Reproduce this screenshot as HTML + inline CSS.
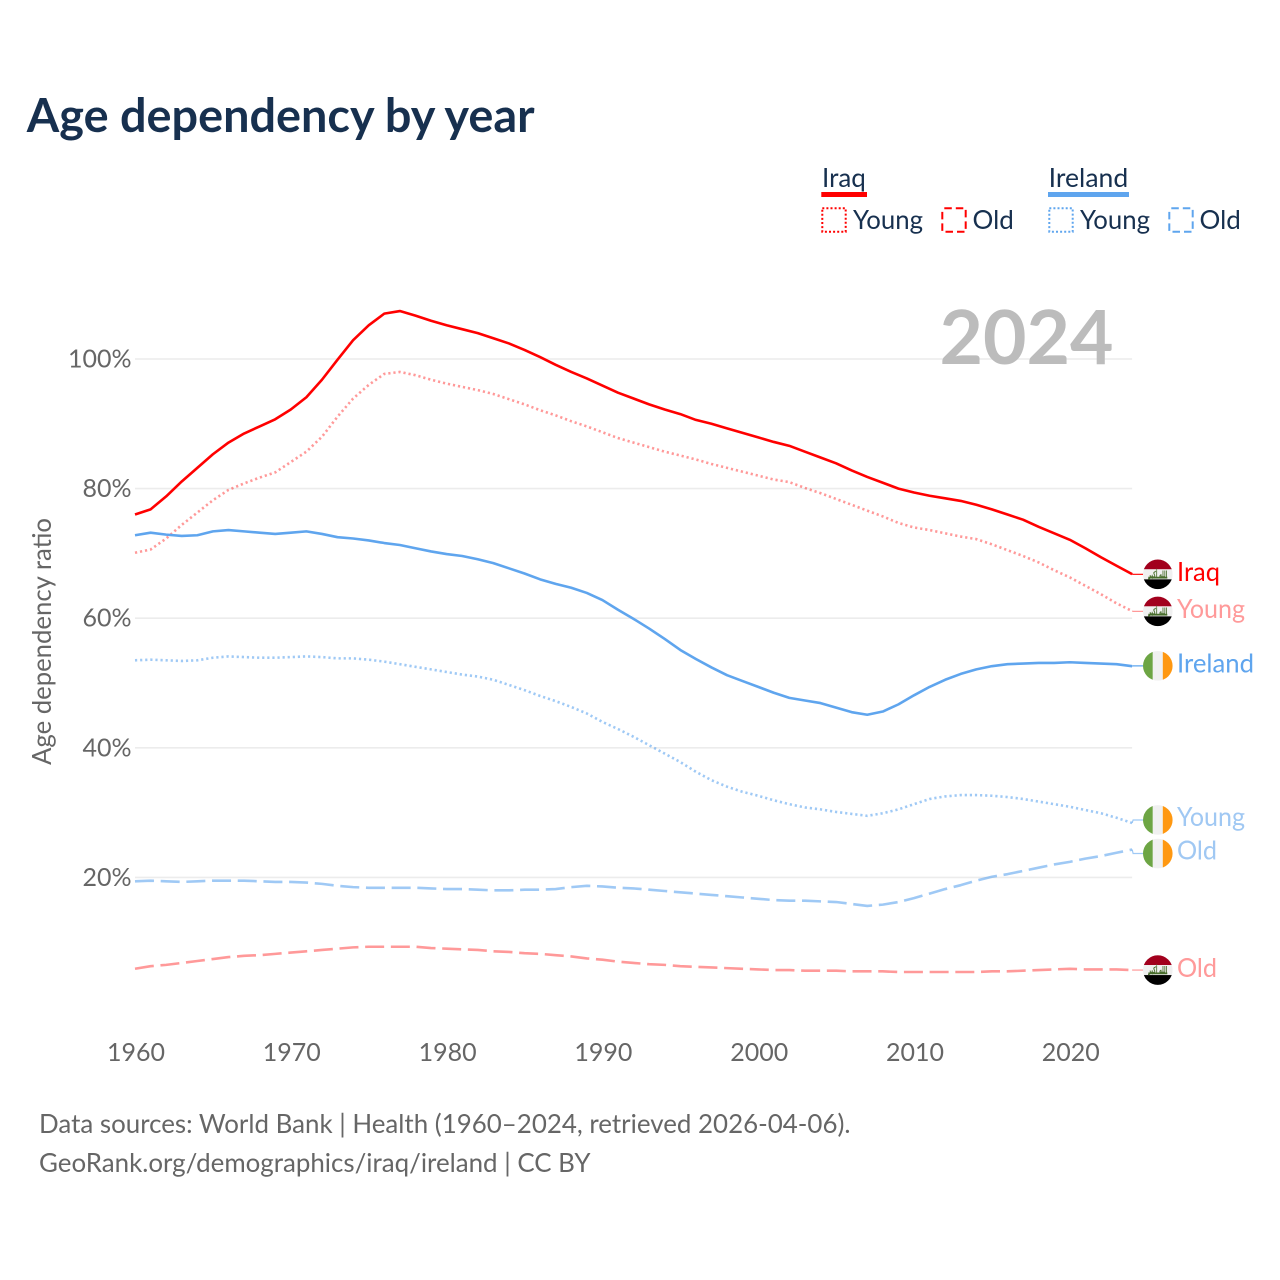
<!DOCTYPE html>
<html lang="en">
<head>
<meta charset="utf-8">
<title>Age dependency by year</title>
<style>
  html, body { margin: 0; padding: 0; background: #fff; }
  svg { display: block; }
  text { font-family: "Lato", "Carlito", "Liberation Sans", sans-serif; }
  .dk { fill: #17304f; font-size: 26px; }
  .gy { fill: #666666; font-size: 26px; }
  .tick { fill: #666666; font-size: 25px; }
</style>
</head>
<body>
<svg id="chart" xmlns="http://www.w3.org/2000/svg" width="1280" height="1280" viewBox="0 0 1280 1280">
  <defs>
    <clipPath id="flag-clip"><circle cx="0" cy="0" r="14.8"></circle></clipPath>
  </defs>

  <text x="26.8" y="132" style="font-size:46.8px;font-weight:700;fill:#17304f">Age dependency by year</text>

  <g>
    <g>
      <text class="dk" x="822" y="187">Iraq</text>
      <rect x="821.3" y="192" width="45.7" height="5" fill="#ff0000"></rect>
      <rect x="822.3" y="208.3" width="23.4" height="23.4" fill="none" stroke="#ff0000" stroke-width="2" stroke-dasharray="2 2.1"></rect>
      <text class="dk" x="853" y="229" textLength="70" lengthAdjust="spacingAndGlyphs">Young</text>
      <rect x="942.3" y="208.3" width="23.4" height="23.4" fill="none" stroke="#ff0000" stroke-width="2" stroke-dasharray="7.5 4" stroke-dashoffset="-2"></rect>
      <text class="dk" x="972.5" y="229">Old</text>
    </g>
    <g>
      <text class="dk" x="1048.7" y="187" textLength="79.5" lengthAdjust="spacingAndGlyphs">Ireland</text>
      <rect x="1048" y="192" width="81" height="5" fill="#5fa5ee"></rect>
      <rect x="1049.3" y="208.3" width="23.4" height="23.4" fill="none" stroke="#5fa5ee" stroke-width="2" stroke-dasharray="2 2.1"></rect>
      <text class="dk" x="1080" y="229" textLength="70" lengthAdjust="spacingAndGlyphs">Young</text>
      <rect x="1169.3" y="208.3" width="23.4" height="23.4" fill="none" stroke="#5fa5ee" stroke-width="2" stroke-dasharray="7.5 4" stroke-dashoffset="-2"></rect>
      <text class="dk" x="1199.5" y="229">Old</text>
    </g>
  </g>

  <g id="grid"></g>
  <g id="y-ticks"></g>
  <g id="x-ticks"></g>

  <text class="gy" x="0" y="0" transform="translate(51 765) rotate(-90)" textLength="247" lengthAdjust="spacingAndGlyphs">Age dependency ratio</text>

  <text x="939.5" y="364" style="font-size:75px;font-weight:700;fill:#bcbcbc">2024</text>

  <g id="series"></g>
  <g id="end-labels"></g>

  <text class="gy" x="39" y="1133" textLength="811.5" lengthAdjust="spacingAndGlyphs">Data sources: World Bank | Health (1960–2024, retrieved 2026-04-06).</text>
  <text class="gy" x="39" y="1172" textLength="551.5" lengthAdjust="spacingAndGlyphs">GeoRank.org/demographics/iraq/ireland | CC BY</text>
</svg>

<script>
const startYear = 1960;
const yTickValues = [100, 80, 60, 40, 20];
const yTickLabels = ["100%", "80%", "60%", "40%", "20%"];
const xTickValues = [1960, 1970, 1980, 1990, 2000, 2010, 2020];
const xTickLabels = ["1960", "1970", "1980", "1990", "2000", "2010", "2020"];

const iraqTotal = [76.0,76.8,78.8,81.1,83.2,85.3,87.1,88.5,89.6,90.7,92.2,94.1,96.8,99.9,102.9,105.2,107.0,107.4,106.7,105.9,105.2,104.6,104.0,103.2,102.4,101.4,100.3,99.1,98.0,97.0,95.9,94.8,93.9,93.0,92.2,91.5,90.6,90.0,89.3,88.6,87.9,87.2,86.6,85.7,84.8,83.9,82.8,81.8,80.9,80.0,79.4,78.9,78.5,78.1,77.5,76.8,76.0,75.2,74.1,73.1,72.1,70.8,69.4,68.1,66.8];
const iraqYoung = [70.1,70.6,72.3,74.4,76.3,78.2,79.8,80.8,81.7,82.5,84.1,85.7,88.0,91.1,93.9,96.0,97.7,98.0,97.5,96.8,96.2,95.7,95.2,94.6,93.8,93.0,92.1,91.3,90.4,89.6,88.7,87.8,87.1,86.4,85.7,85.1,84.5,83.8,83.2,82.6,82.0,81.4,81.0,80.1,79.3,78.4,77.5,76.6,75.7,74.7,74.0,73.6,73.1,72.6,72.2,71.4,70.5,69.6,68.6,67.4,66.3,65.0,63.7,62.3,61.1];
const iraqOld = [5.9,6.3,6.5,6.8,7.1,7.4,7.7,7.9,8.0,8.2,8.4,8.6,8.8,9.0,9.2,9.3,9.3,9.3,9.3,9.1,9.0,8.9,8.8,8.6,8.5,8.3,8.2,8.0,7.8,7.5,7.3,7.0,6.8,6.6,6.5,6.3,6.2,6.1,6.0,5.9,5.8,5.7,5.7,5.6,5.6,5.6,5.5,5.5,5.5,5.4,5.4,5.4,5.4,5.4,5.4,5.5,5.5,5.6,5.7,5.8,5.9,5.8,5.8,5.8,5.7];
const irelandTotal = [72.8,73.2,72.9,72.7,72.8,73.4,73.6,73.4,73.2,73.0,73.2,73.4,73.0,72.5,72.3,72.0,71.6,71.3,70.8,70.3,69.9,69.6,69.1,68.5,67.7,66.9,66.0,65.3,64.7,63.9,62.8,61.3,59.9,58.4,56.8,55.1,53.7,52.4,51.2,50.3,49.4,48.5,47.7,47.3,46.9,46.2,45.5,45.1,45.6,46.7,48.1,49.4,50.5,51.4,52.1,52.6,52.9,53.0,53.1,53.1,53.2,53.1,53.0,52.9,52.6];
const irelandYoung = [53.5,53.6,53.5,53.4,53.5,53.9,54.1,54.0,53.9,53.9,54.0,54.1,54.0,53.8,53.8,53.6,53.3,52.9,52.5,52.1,51.7,51.3,51.0,50.5,49.7,48.9,48.0,47.2,46.3,45.3,44.0,42.9,41.7,40.4,39.1,37.8,36.3,35.0,34.0,33.2,32.6,31.9,31.3,30.8,30.5,30.1,29.8,29.5,29.9,30.5,31.3,32.1,32.5,32.7,32.7,32.6,32.4,32.1,31.7,31.3,30.9,30.4,29.9,29.2,28.4];
const irelandOld = [19.4,19.5,19.4,19.3,19.4,19.5,19.5,19.5,19.4,19.3,19.3,19.2,19.0,18.7,18.5,18.4,18.4,18.4,18.4,18.3,18.2,18.2,18.1,18.0,18.0,18.1,18.1,18.2,18.5,18.7,18.6,18.4,18.3,18.1,17.9,17.7,17.5,17.3,17.1,16.9,16.7,16.5,16.4,16.4,16.3,16.2,15.9,15.6,15.8,16.2,16.8,17.5,18.2,18.8,19.5,20.1,20.5,21.0,21.5,22.0,22.4,22.9,23.3,23.8,24.3];

const NS = "http://www.w3.org/2000/svg";
const xScale = year => 135 + (year - startYear) * 15.58;
const yScale = value => 1007 - value * 6.48;

const RED = "#ff0000";
const BLUE = "#5fa5ee";
const DOTTED = "2.2 2.9";
const DASHED = "19 6.7";

const seriesList = [
  { key: "ireland-old",   label: "Old",     flag: "ireland", values: irelandOld,   color: BLUE, opacity: 0.6,  dash: DASHED, labelColor: "#a0c8f3", nudge: 4,    labelShift: -1 },
  { key: "iraq-old",      label: "Old",     flag: "iraq",    values: iraqOld,      color: RED,  opacity: 0.4,  dash: DASHED, labelColor: "#ff9a9a", nudge: 0,    labelShift: 0 },
  { key: "ireland-young", label: "Young",   flag: "ireland", values: irelandYoung, color: BLUE, opacity: 0.6,  dash: DOTTED, labelColor: "#a0c8f3", nudge: -3,   labelShift: -1 },
  { key: "iraq-young",    label: "Young",   flag: "iraq",    values: iraqYoung,    color: RED,  opacity: 0.4,  dash: DOTTED, labelColor: "#ff9a9a", nudge: 0.3,  labelShift: 0 },
  { key: "ireland-total", label: "Ireland", flag: "ireland", values: irelandTotal, color: BLUE, opacity: 1,    dash: null,   labelColor: BLUE,      nudge: -0.3, labelShift: 0 },
  { key: "iraq-total",    label: "Iraq",    flag: "iraq",    values: iraqTotal,    color: RED,  opacity: 1,    dash: null,   labelColor: RED,       nudge: 0.2,  labelShift: 0 }
];

const gridGroup = document.getElementById("grid");
const yTickGroup = document.getElementById("y-ticks");
const xTickGroup = document.getElementById("x-ticks");
const seriesGroup = document.getElementById("series");
const labelGroup = document.getElementById("end-labels");

yTickValues.forEach((v, i) => {
  const line = document.createElementNS(NS, "line");
  
  
  line.setAttribute("x1", xScale(startYear));
  line.setAttribute("x2", xScale(2024));
  line.setAttribute("y1", yScale(v));
  line.setAttribute("y2", yScale(v));
  line.setAttribute("stroke", "#ececec");
  line.setAttribute("stroke-width", "1.6");
  gridGroup.appendChild(line);

  const t = document.createElementNS(NS, "text");
  
  
  t.setAttribute("class", "tick");
  t.setAttribute("x", "131.5");
  t.setAttribute("y", yScale(v) + 8.5);
  t.setAttribute("text-anchor", "end");
  t.textContent = yTickLabels[i];
  yTickGroup.appendChild(t);
});

xTickValues.forEach((yr, i) => {
  const t = document.createElementNS(NS, "text");
  
  
  t.setAttribute("class", "tick");
  t.setAttribute("x", xScale(yr) + 1);
  t.setAttribute("y", "1061");
  t.setAttribute("text-anchor", "middle");
  t.textContent = xTickLabels[i];
  xTickGroup.appendChild(t);
});

seriesList.forEach(s => {
  const points = s.values.map((v, i) => xScale(startYear + i).toFixed(2) + "," + yScale(v).toFixed(2));
  const last = s.values[s.values.length - 1];
  const endX = xScale(startYear + s.values.length - 1);
  const endY = yScale(last);
  const flagY = endY + s.nudge;

  const line = document.createElementNS(NS, "polyline");
  
  
  line.setAttribute("points", points.join(" "));
  line.setAttribute("fill", "none");
  line.setAttribute("stroke", s.color);
  line.setAttribute("stroke-opacity", s.opacity);
  line.setAttribute("stroke-width", "2.6");
  line.setAttribute("stroke-linejoin", "round");
  if (s.dash) line.setAttribute("stroke-dasharray", s.dash);
  seriesGroup.appendChild(line);

  const conn = document.createElementNS(NS, "polyline");
  
  
  conn.setAttribute("points", endX + "," + endY + " " + (endX + 1) + "," + flagY + " " + (endX + 11) + "," + flagY);
  conn.setAttribute("fill", "none");
  conn.setAttribute("stroke", s.color);
  conn.setAttribute("stroke-opacity", s.opacity);
  conn.setAttribute("stroke-width", "1.2");
  labelGroup.appendChild(conn);

  const flag = document.createElementNS(NS, "g");
  
  
  flag.setAttribute("transform", "translate(1157.8 " + flagY + ")");
  flag.setAttribute("clip-path", "url(#flag-clip)");
  if (s.flag === "iraq") {
    flag.innerHTML =
      '<rect x="-15" y="-15" width="30" height="10" fill="#a2001d"></rect>' +
      '<rect x="-15" y="-5" width="30" height="10" fill="#f0f0f0"></rect>' +
      '<rect x="-15" y="5" width="30" height="10" fill="#000000"></rect>' +
      '<rect x="-9.5" y="2.4" width="19" height="1.8" fill="#496e2d"></rect>' +
      '<text x="0" y="3" text-anchor="middle" textLength="19" lengthAdjust="spacingAndGlyphs" direction="rtl" style="font-family:\'DejaVu Sans\',sans-serif;font-size:9px;font-weight:700;fill:#496e2d">الله أكبر</text>';
  } else {
    flag.innerHTML =
      '<rect x="-15" y="-15" width="10" height="30" fill="#6da544"></rect>' +
      '<rect x="-5" y="-15" width="10" height="30" fill="#f0f0f0"></rect>' +
      '<rect x="5" y="-15" width="10" height="30" fill="#ff9811"></rect>';
  }
  labelGroup.appendChild(flag);

  const label = document.createElementNS(NS, "text");
  
  
  label.setAttribute("x", "1177");
  label.setAttribute("y", flagY + 6.8 + s.labelShift);
  label.setAttribute("fill", s.labelColor);
  label.setAttribute("font-size", "26");
  const labelWidths = { Iraq: 43, Young: 68, Ireland: 77, Old: 40 };
  label.setAttribute("textLength", labelWidths[s.label]);
  label.setAttribute("lengthAdjust", "spacingAndGlyphs");
  label.textContent = s.label;
  labelGroup.appendChild(label);
});
</script>
</body>
</html>
